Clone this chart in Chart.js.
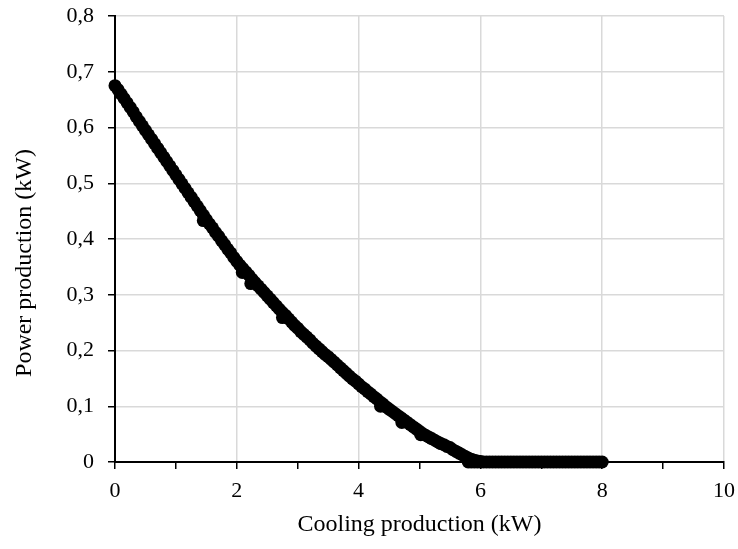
<!DOCTYPE html>
<html>
<head>
<meta charset="utf-8">
<script src="https://cdn.jsdelivr.net/npm/chart.js@4"></script>
<style>
  html, body { margin: 0; padding: 0; background: #fff; }
  #wrap { width: 738px; height: 549px; position: relative; }
</style>
</head>
<body>
<div id="wrap"><canvas id="c" width="738" height="549"></canvas></div>
<script>
// Descending branch: cooling production (kW) and power production (kW)
const curveCooling = [
  0.00,0.05,0.10,0.15,0.20,0.25,0.30,0.35,0.40,0.45,0.50,0.55,0.60,0.65,0.70,0.75,0.80,0.85,0.90,0.95,
  1.00,1.05,1.10,1.15,1.20,1.25,1.30,1.35,1.40,1.45,1.50,1.55,1.60,1.65,1.70,1.75,1.80,1.85,1.90,1.95,
  2.00,2.05,2.10,2.15,2.20,2.25,2.30,2.35,2.40,2.45,2.50,2.55,2.60,2.65,2.70,2.75,2.80,2.85,2.90,2.95,
  3.00,3.05,3.10,3.15,3.20,3.25,3.30,3.35,3.40,3.45,3.50,3.55,3.60,3.65,3.70,3.75,3.80,3.85,3.90,3.95,
  4.00,4.05,4.10,4.15,4.20,4.25,4.30,4.35,4.40,4.45,4.50,4.55,4.60,4.65,4.70,4.75,4.80,4.85,4.90,4.95,
  5.00,5.05,5.10,5.15,5.20,5.25,5.30,5.35,5.40,5.45,5.50,5.55,5.60,5.65,5.70,5.75,5.80,5.85,5.90,5.95,6.00
];
const curvePower = [
  0.675,0.668,0.660,0.652,0.644,0.636,0.628,0.619,0.611,0.603,0.595,0.587,0.579,0.571,0.563,0.555,0.547,0.539,0.531,0.523,
  0.515,0.507,0.499,0.491,0.483,0.475,0.467,0.459,0.451,0.443,0.435,0.427,0.420,0.412,0.405,0.397,0.390,0.382,0.375,0.367,
  0.360,0.353,0.347,0.341,0.335,0.328,0.322,0.316,0.310,0.304,0.298,0.292,0.286,0.280,0.274,0.268,0.263,0.257,0.251,0.245,
  0.240,0.234,0.229,0.224,0.219,0.213,0.208,0.203,0.198,0.193,0.189,0.184,0.179,0.174,0.169,0.164,0.159,0.154,0.149,0.145,
  0.140,0.135,0.131,0.126,0.122,0.117,0.113,0.108,0.104,0.099,0.095,0.091,0.087,0.083,0.079,0.075,0.071,0.067,0.063,0.059,
  0.055,0.051,0.048,0.045,0.042,0.039,0.036,0.033,0.031,0.028,0.026,0.022,0.019,0.016,0.013,0.010,0.007,0.005,0.003,0.002,0.001
];
// Flat branch: power production is zero for these cooling productions (kW)
const flatCooling = [
  5.80,5.85,5.90,5.95,6.00,6.05,6.10,6.15,6.20,6.25,6.30,6.35,6.40,6.45,6.50,6.55,6.60,6.65,6.70,6.75,
  6.80,6.85,6.90,6.95,7.00,7.05,7.10,7.15,7.20,7.25,7.30,7.35,7.40,7.45,7.50,7.55,7.60,7.65,7.70,7.75,
  7.80,7.85,7.90,7.95,8.00
];
const flatPower = flatCooling.map(() => 0);
// A few points sitting slightly below the main band
const offCooling = [1.45,2.09,2.23,2.75,4.36,4.71,5.02];
const offPower   = [0.433,0.340,0.320,0.259,0.100,0.071,0.049];

const xTickLabels = ['0','','2','','4','','6','','8','','10'];
const yTickLabels = ['0','0,1','0,2','0,3','0,4','0,5','0,6','0,7','0,8'];
const xTitle = 'Cooling production (kW)';
const yTitle = 'Power production (kW)';

const points = []
  .concat(curveCooling.map((x, i) => ({ x: x, y: curvePower[i] })))
  .concat(flatCooling.map((x, i) => ({ x: x, y: flatPower[i] })))
  .concat(offCooling.map((x, i) => ({ x: x, y: offPower[i] })));
const serif = '"Liberation Serif", "Times New Roman", serif';

const titlesPlugin = {
  id: 'titles',
  afterDraw(chart) {
    const ctx = chart.ctx;
    const a = chart.chartArea;
    ctx.save();
    ctx.fillStyle = '#000';
    ctx.font = '24px ' + serif;
    ctx.textAlign = 'center';
    ctx.textBaseline = 'middle';
    ctx.fillText(xTitle, (a.left + a.right) / 2, 525);
    ctx.translate(25, 263);
    ctx.rotate(-Math.PI / 2);
    ctx.fillText(yTitle, 0, 0);
    ctx.restore();
  }
};

new Chart(document.getElementById('c'), {
  type: 'scatter',
  data: {
    datasets: [{
      data: points,
      backgroundColor: '#000',
      borderColor: '#000',
      borderWidth: 0,
      pointRadius: 6.5,
      pointHoverRadius: 6.5,
      clip: false
    }]
  },
  options: {
    responsive: false,
    animation: false,
    events: [],
    layout: { padding: { left: 0, right: 14, top: 16, bottom: 0 } },
    plugins: { legend: { display: false }, tooltip: { enabled: false } },
    scales: {
      x: {
        type: 'linear', min: 0, max: 10,
        afterFit(s) { s.height = 87; s.paddingLeft = 0; s.paddingRight = 0; },
        ticks: {
          stepSize: 1, autoSkip: false, maxRotation: 0,
          color: '#000', font: { family: serif, size: 22 }, padding: 9,
          callback: (v) => xTickLabels[Math.round(v)] ?? ''
        },
        grid: {
          color: (c) => (c.tick && Math.round(c.tick.value) % 2 === 0) ? '#d9d9d9' : 'rgba(0,0,0,0)',
          lineWidth: 1.5, tickColor: '#000', tickLength: 7, tickWidth: 1.5, drawTicks: true
        },
        border: { color: '#000', width: 2 }
      },
      y: {
        type: 'linear', min: 0, max: 0.8,
        afterFit(s) { s.width = 115; s.paddingTop = 0; s.paddingBottom = 0; },
        ticks: {
          stepSize: 0.1, autoSkip: false,
          color: '#000', font: { family: serif, size: 22 }, padding: 14,
          callback: (v) => yTickLabels[Math.round(v * 10)] ?? ''
        },
        grid: {
          color: '#d9d9d9', lineWidth: 1.5, tickColor: '#000', tickLength: 7, tickWidth: 1.5
        },
        border: { color: '#000', width: 2 }
      }
    }
  },
  plugins: [titlesPlugin]
});
</script>
</body>
</html>
